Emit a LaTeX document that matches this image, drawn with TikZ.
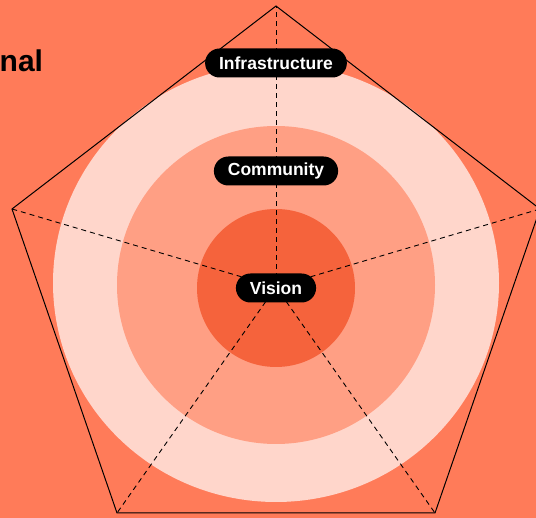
\documentclass[tikz,border=0pt]{standalone}
\usepackage{fontspec}
\setmainfont{Liberation Sans}
\definecolor{bgc}{HTML}{FF7B59}
\definecolor{outerc}{HTML}{FFD6CB}
\definecolor{midc}{HTML}{FF9F84}
\definecolor{innerc}{HTML}{F5633C}
\tikzset{
  lbl/.style={fill=black, text=white, font=\fontsize{17.5}{20}\selectfont\bfseries,
    rounded corners=14.5pt, minimum height=29pt, inner xsep=14pt, inner ysep=0pt},
  spoke/.style={draw=black, line width=0.9pt, dash pattern=on 5pt off 4pt},
  edge/.style={draw=black, line width=1pt, line join=miter}
}
\begin{document}
\begin{tikzpicture}[x=1pt,y=-1pt]
\useasboundingbox (0,0) rectangle (536,518);
\clip (0,0) rectangle (536,518);
\fill[bgc] (0,0) rectangle (536,518);
\fill[outerc] (276,283) ellipse [x radius=223, y radius=219];
\fill[midc] (276,285) circle (159);
\fill[innerc] (276,288) circle (79);
\coordinate (c) at (276,287);
\coordinate (vt) at (276,6);
\coordinate (vl) at (12,209);
\coordinate (vr) at (540,209);
\coordinate (vbl) at (117,513);
\coordinate (vbr) at (435,513);
\draw[edge] (vt) -- (vr) -- (vbr) -- (vbl) -- (vl) -- cycle;
\foreach \v in {vt,vl,vr,vbl,vbr} \draw[spoke] (c) -- (\v);
\node[lbl] (infra) at (276,63) {Infrastructure};
\node[lbl] (comm) at (276,171) {Community};
\node[lbl] (vis) at (276,288) {Vision};
\node[anchor=base west, inner sep=0pt, font=\fontsize{30}{34}\selectfont\bfseries] (title) at (-0.5,71.5) {nal};
\end{tikzpicture}
\end{document}
